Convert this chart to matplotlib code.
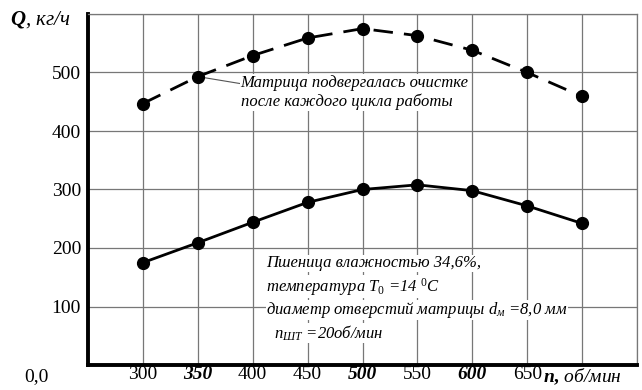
import matplotlib
matplotlib.use('Agg')
import matplotlib.pyplot as plt

plt.rcParams['font.family'] = ['Liberation Serif', 'DejaVu Serif']
plt.rcParams['mathtext.fontset'] = 'custom'
plt.rcParams['mathtext.rm'] = 'Liberation Serif'
plt.rcParams['mathtext.it'] = 'Liberation Serif:italic'
plt.rcParams['mathtext.bf'] = 'Liberation Serif:bold'
plt.rcParams['mathtext.bfit'] = 'Liberation Serif:bold:italic'

# частота вращения шнека, об/мин
n_rpm = [300, 350, 400, 450, 500, 550, 600, 650, 700]
# производительность с очисткой матрицы после каждого цикла, кг/ч
q_cleaned = [447, 493, 529, 559, 575, 563, 538, 500, 459]
# производительность пшеницы влажностью 34,6 %, кг/ч
q_wheat = [175, 209, 244, 278, 300, 308, 298, 272, 242]

x_ticks = [300, 350, 400, 450, 500, 550, 600, 650, 700]
x_labels = ['300', '350', '400', '450', '500', '550', '600', '650',
            r'$\mathbfit{n}$$\mathbf{,}$ об/мин']
bold_labels = ['350', '500', '600']
y_ticks = [100, 200, 300, 400, 500]

fig = plt.figure(figsize=(6.42, 3.90), dpi=100)
ax = fig.add_axes([88 / 642, 25 / 390, 549 / 642, 351 / 390])

ax.plot(n_rpm, q_cleaned, color='black', lw=2.0, dashes=(7, 4),
        marker='o', ms=8.5, zorder=4)
ax.plot(n_rpm, q_wheat, color='black', lw=2.0,
        marker='o', ms=8.5, zorder=4)

ax.set_xlim(250, 750)
ax.set_ylim(0, 600)
ax.grid(True, color='#777777', lw=0.9, zorder=0)
ax.tick_params(length=0, labelsize=14)
ax.tick_params(axis='x', pad=1)
ax.tick_params(axis='y', pad=5)

ax.set_xticks(x_ticks + [750])
ax.set_xticklabels(x_labels + [''])
ax.set_yticks(y_ticks + [600])
ax.set_yticklabels([str(v) for v in y_ticks] + [''])
for lbl in ax.get_xticklabels():
    if lbl.get_text() in bold_labels:
        lbl.set_fontweight('bold')
        lbl.set_fontstyle('italic')
    elif 'об' in lbl.get_text():
        lbl.set_fontstyle('italic')

for side in ('left', 'bottom'):
    ax.spines[side].set_linewidth(2.8)
for side in ('top', 'right'):
    ax.spines[side].set_color('#777777')
    ax.spines[side].set_linewidth(0.9)

fig.text(10 / 642, 1 - 20 / 390, r'$\mathbfit{Q}$, кг/ч', fontsize=15,
         style='italic', va='center', ha='left')
fig.text(36 / 642, 1 - 377 / 390, '0,0', fontsize=14, ha='center', va='center')

# выноска к верхней кривой
ax.annotate('Матрица подвергалась очистке\nпосле каждого цикла работы',
            xy=(350, 493), xytext=(389, 466), fontsize=12, style='italic',
            ha='left', va='center', linespacing=1.2,
            bbox=dict(facecolor='white', edgecolor='none', pad=0.5),
            arrowprops=dict(arrowstyle='-', color='#555555', lw=0.8,
                            shrinkA=0, shrinkB=4,
                            relpos=(0.0, 0.75)))

notes = ['Пшеница влажностью 34,6%,',
         r'температура $T_0$ =14 $^0$C',
         r'диаметр отверстий матрицы $d_м$ =8,0 мм',
         r'  $n_{ШТ}$ =20об/мин']
for i, line in enumerate(notes):
    ax.text(412, 174 - i * 40, line, fontsize=12, style='italic',
            ha='left', va='center',
            bbox=dict(facecolor='white', edgecolor='none', pad=0.3))

fig.savefig('out.png', dpi=100)
